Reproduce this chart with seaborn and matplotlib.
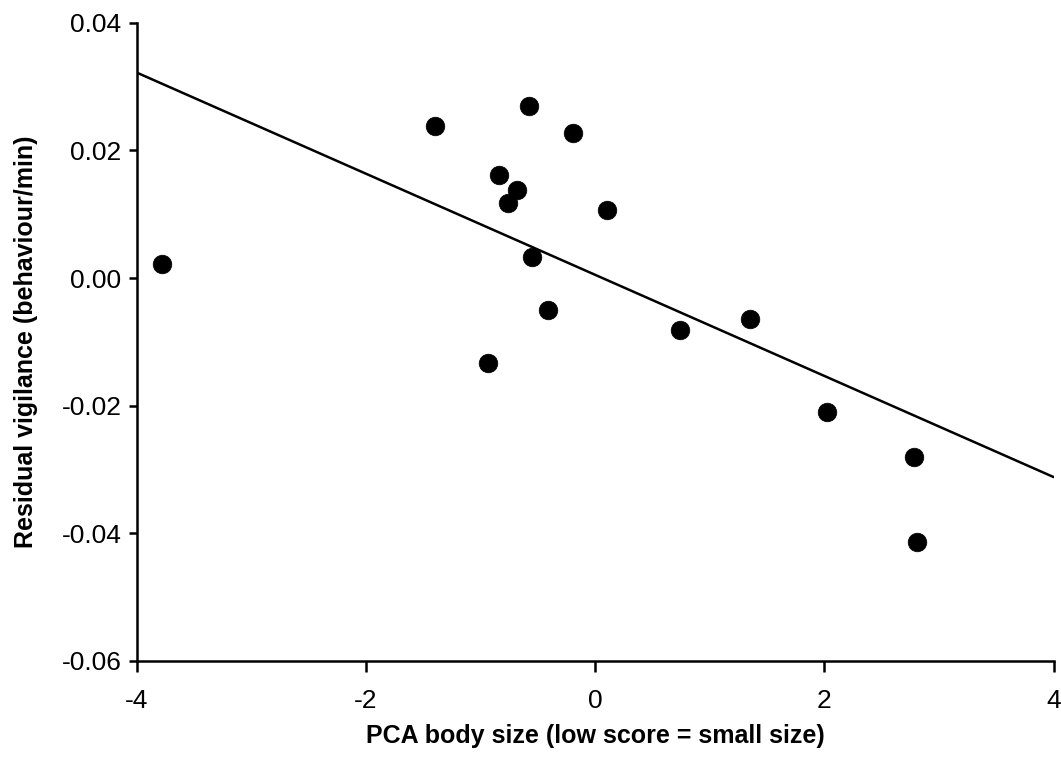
import matplotlib
matplotlib.use("Agg")
import matplotlib.pyplot as plt
import seaborn as sns
import pandas as pd

# Data
body_size = [-3.78, -1.40, -0.58, -0.19, -0.84, -0.68, -0.76, 0.10, -0.55,
             -0.41, -0.94, 0.74, 1.35, 2.02, 2.78, 2.81]
vigilance = [0.0022, 0.0238, 0.0270, 0.0227, 0.0162, 0.0138, 0.0117, 0.0106, 0.0033,
             -0.0050, -0.0133, -0.0082, -0.0064, -0.0210, -0.0281, -0.0414]
fit_x = [-4.0, 4.0]
fit_y = [0.0322, -0.0312]

x_ticks = [-4, -2, 0, 2, 4]
y_ticks = [-0.06, -0.04, -0.02, 0.00, 0.02, 0.04]

sns.set_style("ticks")
plt.rcParams['font.family'] = ['Liberation Sans', 'DejaVu Sans']
plt.rcParams['axes.unicode_minus'] = False
plt.rcParams['text.color'] = 'black'
plt.rcParams['axes.labelcolor'] = 'black'

fig = plt.figure(figsize=(10.61, 7.63), dpi=100)
ax = fig.add_axes([0.129, 0.134, 0.864, 0.836])

pts = pd.DataFrame({"x": body_size, "y": vigilance})
line = pd.DataFrame({"x": fit_x, "y": fit_y})

sns.lineplot(data=line, x="x", y="y", ax=ax, color="black", linewidth=1.8)
sns.scatterplot(data=pts, x="x", y="y", ax=ax, color="black", s=180,
                edgecolor="black", linewidth=0.5, zorder=3)

ax.set_xlim(-4, 4)
ax.set_ylim(-0.06, 0.04)
ax.set_xticks(x_ticks)
ax.set_xticklabels([f"{t:d}" for t in x_ticks])
ax.set_yticks(y_ticks)
ax.set_yticklabels([f"{t:.2f}" for t in y_ticks])
ax.tick_params(axis="both", direction="out", width=1.8,
               labelsize=19, colors="black")
ax.tick_params(axis="x", length=8, pad=12)
ax.tick_params(axis="y", length=6, pad=5)
for s in ["left", "bottom"]:
    ax.spines[s].set_linewidth(1.8)
    ax.spines[s].set_color("black")
sns.despine(ax=ax)

ax.set_xlabel("PCA body size (low score = small size)", fontsize=18,
              fontweight="bold", labelpad=8)
ax.set_ylabel("Residual vigilance (behaviour/min)", fontsize=18,
              fontweight="bold", labelpad=17)

fig.savefig("out.png", dpi=100)
